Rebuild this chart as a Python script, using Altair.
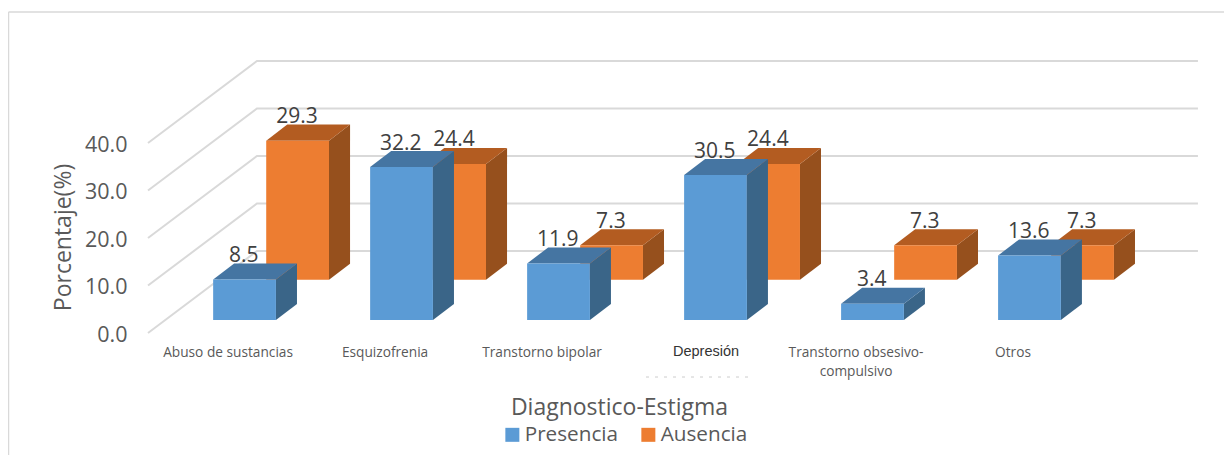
import altair as alt
import pandas as pd

categories = ["Abuso de sustancias", "Esquizofrenia", "Transtorno bipolar",
              "Depresión", "Transtorno obsesivo-\ncompulsivo", "Otros"]
presencia = [8.5, 32.2, 11.9, 30.5, 3.4, 13.6]
ausencia = [29.3, 24.4, 7.3, 24.4, 7.3, 7.3]
y_ticks = [0, 10, 20, 30, 40]

FONT = "Open Sans"
BAR_W = 0.4
BAR_DX, BAR_DY = 0.134, 3.37
WALL_DX, WALL_DY = 0.694, 17.26
WALL_END = 7.073
X0 = 0.385
SERIES = {
    "Presencia": dict(vals=presencia, base=2.74, shift=0.0, front="#5B9BD5", side="#3A6588", top="#4575A2"),
    "Ausencia": dict(vals=ausencia, base=11.2, shift=0.338, front="#ED7D31", side="#96501D", top="#B35C21"),
}

xs = alt.Scale(domain=[X0, 7.239], nice=False, zero=False)
ys = alt.Scale(domain=[-25.68, 68.42], nice=False, zero=False)
x_axis = alt.Axis(labels=False, ticks=False, domain=False, grid=False,
                  titleFont=FONT, titleFontSize=23, titleFontWeight="normal",
                  titleColor="#595959", titleX=471, titleY=-48, titleBaseline="middle")
y_axis = alt.Axis(values=y_ticks, format=".1f", ticks=False, domain=False, grid=False,
                  labelFont=FONT, labelFontSize=21.5, labelColor="#595959", labelPadding=21, labelOffset=2,
                  titleFont=FONT, titleFontSize=23, titleFontWeight="normal",
                  titleColor="#595959", titleX=-85, titleY=229, titleBaseline="middle")
X = lambda f="x": alt.X(f"{f}:Q", scale=xs, axis=x_axis, title="Diagnostico-Estigma")
Y = lambda f="y": alt.Y(f"{f}:Q", scale=ys, axis=y_axis, title="Porcentaje(%)")

# gridlines: floor-to-wall diagonal and back wall
grid_rows = []
for t in y_ticks:
    grid_rows += [dict(k=t, x=X0, y=t), dict(k=t, x=X0 + WALL_DX, y=t + WALL_DY),
                  dict(k=t, x=WALL_END, y=t + WALL_DY)]
grid = alt.Chart(pd.DataFrame(grid_rows)).mark_line(color="#d9d9d9", strokeWidth=2).encode(
    x=X(), y=Y(), detail="k:N")

color = alt.Color("serie:N", scale=alt.Scale(domain=list(SERIES), range=[s["front"] for s in SERIES.values()]),
                  legend=alt.Legend(orient="none", legendX=354, legendY=416, direction="horizontal", title=None,
                                    symbolType="square", symbolSize=196, symbolStrokeWidth=0,
                                    labelFont=FONT, labelFontSize=20.7, labelColor="#595959",
                                    columnPadding=19, labelOffset=2))


def bars(name):
    s = SERIES[name]
    front, side, top, text = [], [], [], []
    for i, v in enumerate(s["vals"], start=1):
        x0 = i - BAR_W / 2 + s["shift"]
        x1 = x0 + BAR_W
        b, t = s["base"], s["base"] + v
        front.append(dict(serie=name, x=x0, x2=x1, y=b, y2=t))
        side += [dict(k=i, x=x1, y=t, y2=b), dict(k=i, x=x1 + BAR_DX, y=t + BAR_DY, y2=b + BAR_DY)]
        top += [dict(k=i, x=x0, y=t, y2=t), dict(k=i, x=x0 + BAR_DX, y=t + BAR_DY, y2=t),
                dict(k=i, x=x1, y=t + BAR_DY, y2=t), dict(k=i, x=x1 + BAR_DX, y=t + BAR_DY, y2=t + BAR_DY)]
        text.append(dict(x=(x0 + x1) / 2, y=t + BAR_DY, label=f"{v:.1f}"))
    return [
        alt.Chart(pd.DataFrame(side)).mark_area(color=s["side"]).encode(x=X(), y=Y(), y2="y2:Q", detail="k:N"),
        alt.Chart(pd.DataFrame(top)).mark_area(color=s["top"]).encode(x=X(), y=Y(), y2="y2:Q", detail="k:N"),
        alt.Chart(pd.DataFrame(front)).mark_rect().encode(x=X(), x2="x2:Q", y=Y(), y2="y2:Q", color=color),
    ], pd.DataFrame(text)


aus_layers, aus_text = bars("Ausencia")
pre_layers, pre_text = bars("Presencia")

val_labels = alt.Chart(pd.concat([aus_text, pre_text])).mark_text(
    font=FONT, fontSize=21, color="#404040", baseline="middle", dy=-7.5, dx=-0.7
).encode(x=X(), y=Y(), text="label:N")

cat_df = pd.DataFrame(dict(x=[i + 1 - 0.105 for i in range(6)], label=categories))
normal = cat_df[cat_df.label != "Depresión"]
dep = cat_df[cat_df.label == "Depresión"]
cat_labels = alt.Chart(normal).mark_text(
    font=FONT, fontSize=13.7, color="#595959", lineBreak="\n", lineHeight=19, baseline="alphabetic"
).encode(x=X(), y=alt.value(349), text="label:N")
dep_label = alt.Chart(dep).mark_text(
    font="Liberation Sans", fontSize=14.5, color="#333333", baseline="alphabetic", dx=7
).encode(x=X(), y=alt.value(348), text="label:N")

frame = alt.Chart(pd.DataFrame(dict(a=[0]))).mark_rule(color="#d9d9d9", strokeWidth=1.5).encode(
    x=alt.value(-139.5), y=alt.value(4), y2=alt.value(447))
frame_top = alt.Chart(pd.DataFrame(dict(a=[0]))).mark_rule(color="#d9d9d9", strokeWidth=1.5).encode(
    x=alt.value(-139.5), x2=alt.value(1076), y=alt.value(4))
specks = alt.Chart(pd.DataFrame(dict(a=[0]))).mark_rule(color="#cccccc", strokeWidth=1, strokeDash=[3, 6]).encode(
    x=alt.value(498), x2=alt.value(602), y=alt.value(369))

chart = alt.layer(grid, frame, frame_top, *aus_layers, *pre_layers, val_labels, cat_labels, dep_label, specks).properties(
    width=1076, height=447, padding=dict(left=140, top=0, right=0, bottom=0),
    autosize=alt.AutoSizeParams(type="none"), background="white",
).configure_view(stroke=None)

chart.save("out.html", embed_options={"renderer": "svg", "actions": False})
